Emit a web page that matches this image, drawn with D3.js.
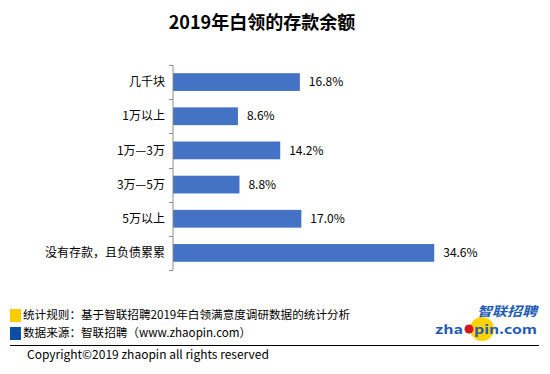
<!DOCTYPE html>
<html>
<head>
<meta charset="utf-8">
<script src="https://cdn.jsdelivr.net/npm/d3@7"></script>
<style>
  body { margin: 0; background: #fff; }
  text { font-family: "Noto Sans CJK SC", "Noto Sans", sans-serif; }
</style>
</head>
<body>
<div id="chart"></div>
<script>
// data
var categories = ["几千块", "1万以上", "1万—3万", "3万—5万", "5万以上", "没有存款，且负债累累"];
var values = [16.8, 8.6, 14.2, 8.8, 17.0, 34.6];
var noteLines = [
  "统计规则：基于智联招聘2019年白领满意度调研数据的统计分析",
  "数据来源：智联招聘（www.zhaopin.com）"
];

var svgWidth = 550, svgHeight = 374;
var margin = { top: 65, left: 173, bottom: 104 };

var svg = d3.select("#chart")
  .append("svg")
  .attr("width", svgWidth)
  .attr("height", svgHeight);

// title
svg.append("text")
  .attr("x", 262)
  .attr("y", 29)
  .attr("text-anchor", "middle")
  .attr("font-size", 18)
  .attr("font-weight", "bold")
  .text("2019年白领的存款余额");

var data = categories.map(function(c, i) { return { cat: c, value: values[i] }; });

// scales
var xScale = d3.scaleLinear()
  .domain([0, 10])
  .range([margin.left, margin.left + 75.5]);

var yScale = d3.scaleBand()
  .domain(categories)
  .range([65, 270])
  .paddingInner(0.48)
  .paddingOuter(0.24);

// bars
svg.selectAll(".bar")
  .data(data)
  .enter()
  .append("rect")
  .attr("class", "bar")
  .attr("x", xScale(0))
  .attr("y", d => yScale(d.cat))
  .attr("width", d => xScale(d.value) - xScale(0))
  .attr("height", yScale.bandwidth())
  .attr("fill", "#4472C4");

// value labels
svg.selectAll(".valueLabel")
  .data(data)
  .enter()
  .append("text")
  .attr("class", "valueLabel")
  .attr("x", d => xScale(d.value) + 9)
  .attr("y", d => yScale(d.cat) + yScale.bandwidth() / 2)
  .attr("dy", "0.35em")
  .attr("font-size", 12)
  .attr("fill", "#000")
  .text(d => d.value.toFixed(1) + "%");

// left axis: ticks between categories
var axisG = svg.append("g");
axisG.append("line")
  .attr("x1", margin.left).attr("x2", margin.left)
  .attr("y1", 65).attr("y2", 270)
  .attr("stroke", "#8c8c8c");
d3.range(categories.length + 1).forEach(function(i) {
  var y = Math.round(65 + i * (205 / categories.length)) + 0.5;
  axisG.append("line")
    .attr("x1", margin.left - 4).attr("x2", margin.left)
    .attr("y1", y).attr("y2", y)
    .attr("stroke", "#8c8c8c");
});

// category labels
svg.selectAll(".catLabel")
  .data(data)
  .enter()
  .append("text")
  .attr("class", "catLabel")
  .attr("x", margin.left - 8)
  .attr("y", d => yScale(d.cat) + yScale.bandwidth() / 2)
  .attr("dy", "0.35em")
  .attr("text-anchor", "end")
  .attr("font-size", 12)
  .attr("fill", "#000")
  .text(d => d.cat);

// footer notes
var noteColors = ["#FFCC00", "#0B4EA2"];
noteLines.forEach(function(t, i) {
  svg.append("rect")
    .attr("x", 10).attr("y", 309 + i * 18)
    .attr("width", 11).attr("height", 13)
    .attr("fill", noteColors[i]);
  svg.append("text")
    .attr("x", 23).attr("y", 319 + i * 18)
    .attr("font-size", 11.6)
    .text(t);
});

svg.append("line")
  .attr("x1", 10).attr("x2", 539)
  .attr("y1", 345.5).attr("y2", 345.5)
  .attr("stroke", "#000");

svg.append("text")
  .attr("x", 27).attr("y", 359)
  .attr("font-size", 12)
  .text("Copyright©2019 zhaopin all rights reserved");

// logo
var logo = svg.append("g");
logo.append("circle")
  .attr("cx", 482).attr("cy", 329).attr("r", 12)
  .attr("fill", "#FFD200");
logo.append("text")
  .attr("x", 477).attr("y", 315.5)
  .attr("font-size", 13)
  .attr("font-weight", "bold")
  .attr("font-style", "italic")
  .attr("textLength", 60)
  .attr("lengthAdjust", "spacingAndGlyphs")
  .attr("fill", "#1E5BB8")
  .text("智联招聘");
logo.append("text")
  .attr("x", 435).attr("y", 334)
  .attr("font-family", "'Liberation Sans', Arial, sans-serif")
  .attr("font-size", 12.5)
  .attr("font-weight", "bold")
  .attr("textLength", 28)
  .attr("lengthAdjust", "spacingAndGlyphs")
  .attr("fill", "#1E5BB8")
  .text("zha");
logo.append("circle")
  .attr("cx", 469).attr("cy", 329).attr("r", 4.5)
  .attr("fill", "#D8141C");
logo.append("text")
  .attr("x", 474).attr("y", 334)
  .attr("font-family", "'Liberation Sans', Arial, sans-serif")
  .attr("font-size", 12.5)
  .attr("font-weight", "bold")
  .attr("textLength", 63)
  .attr("lengthAdjust", "spacingAndGlyphs")
  .attr("fill", "#1E5BB8")
  .text("pin.com");
</script>
</body>
</html>
